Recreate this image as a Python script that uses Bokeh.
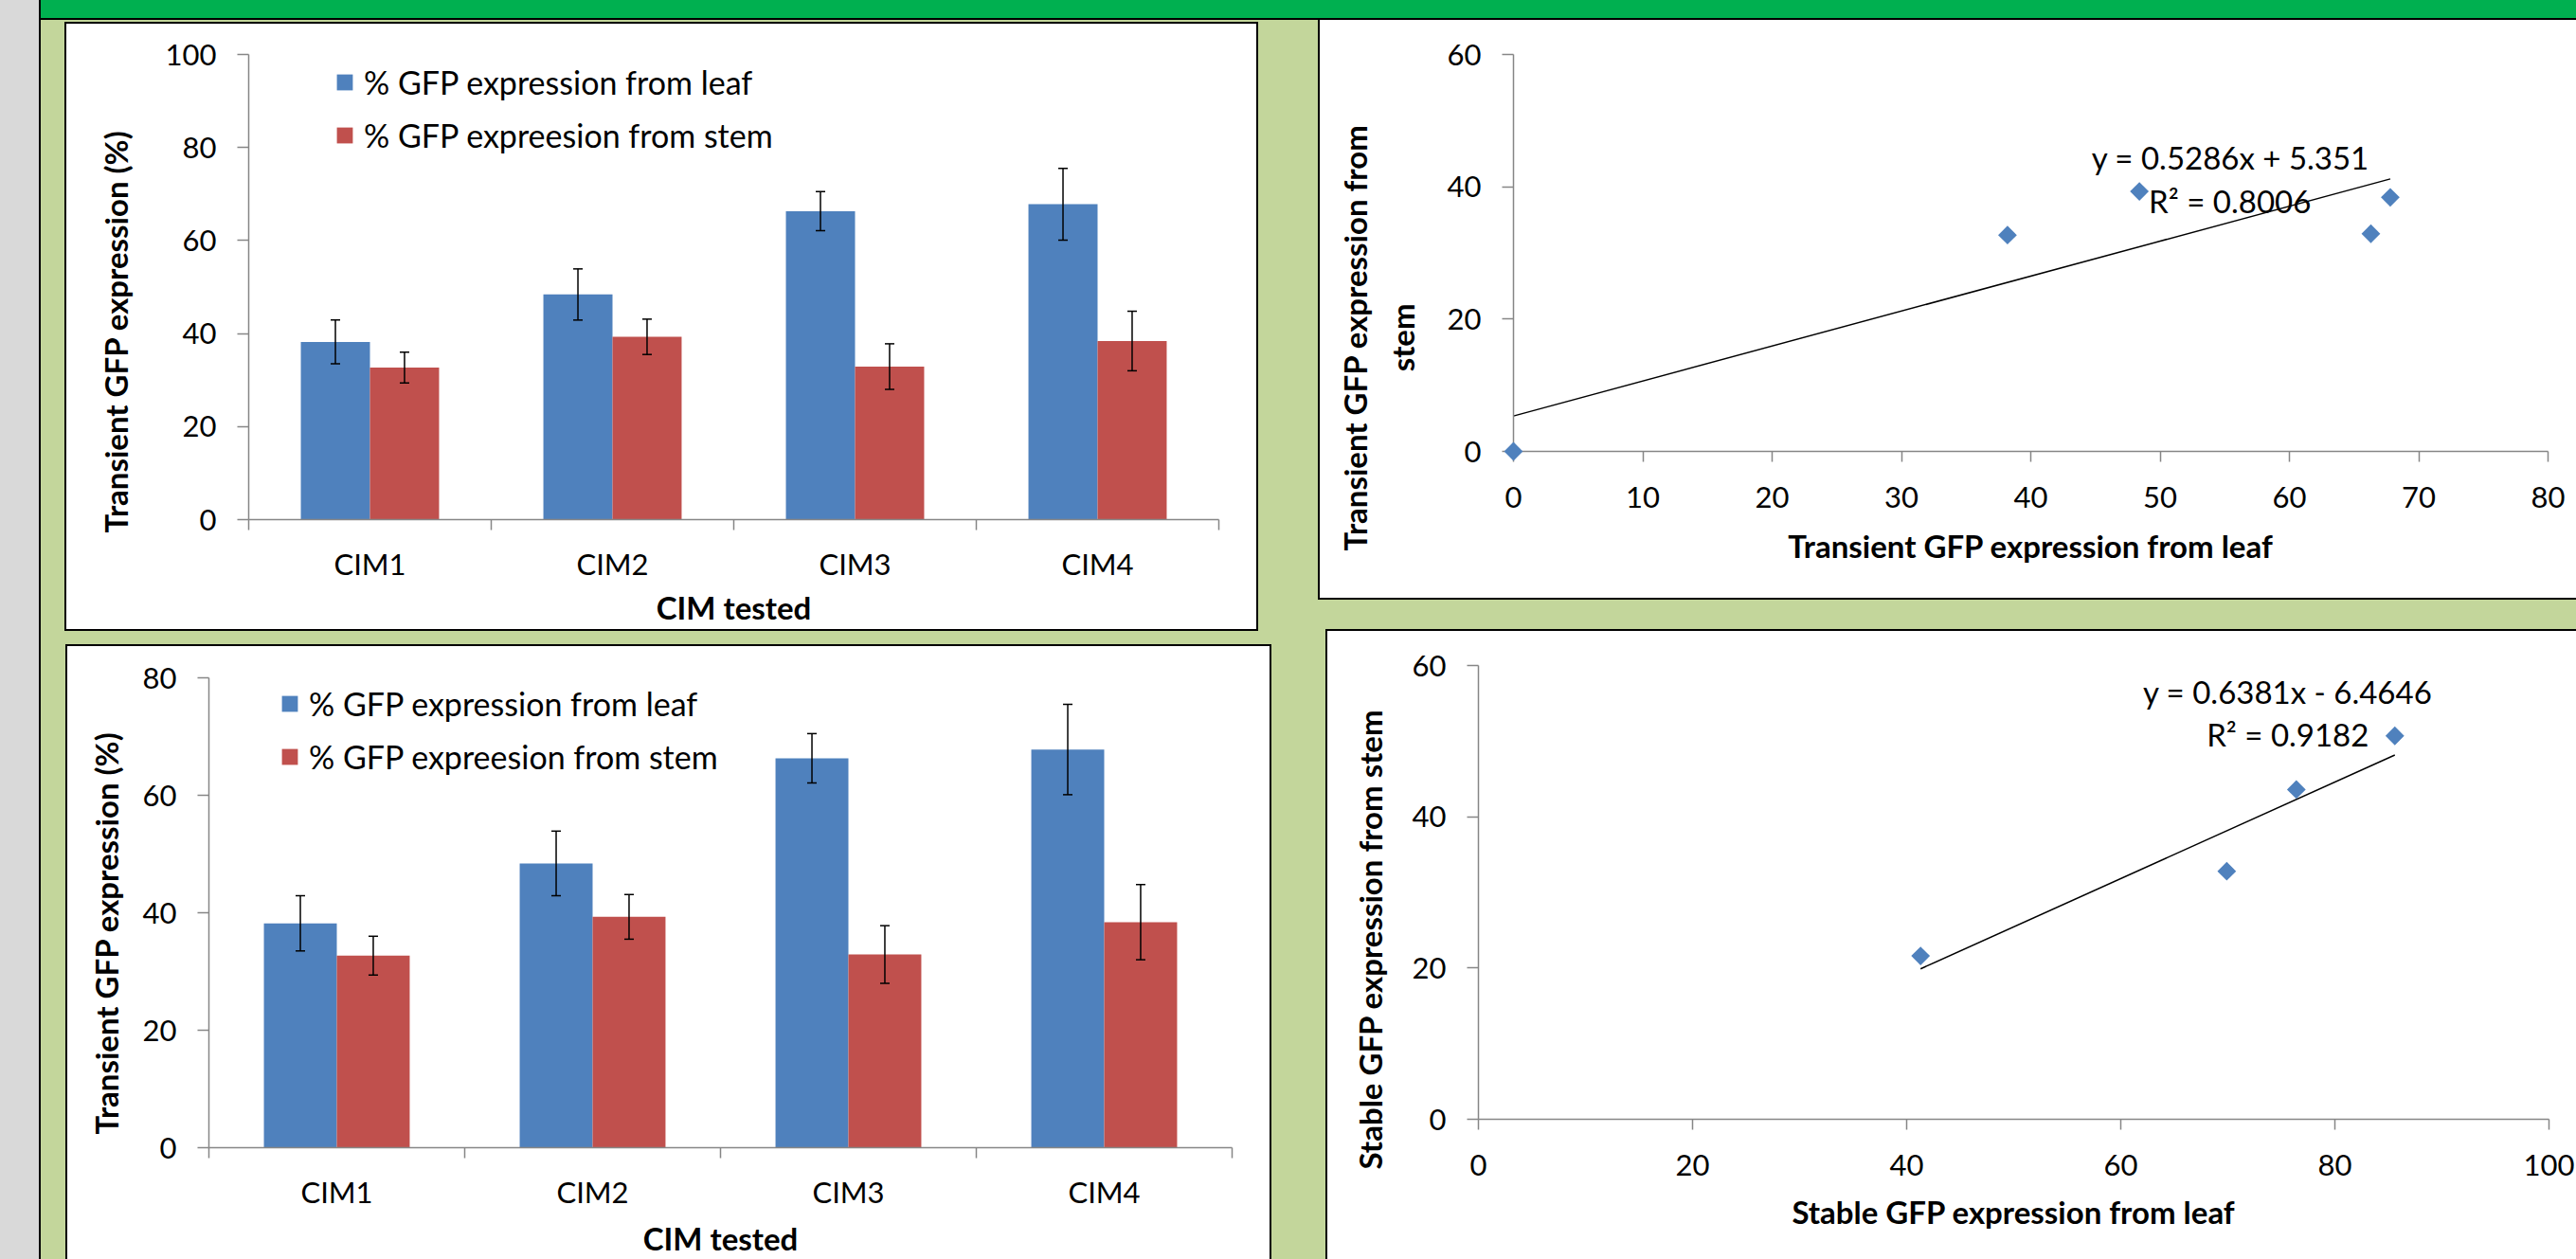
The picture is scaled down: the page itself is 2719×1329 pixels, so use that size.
import math
from bokeh.plotting import figure
from bokeh.models import (Range1d, FixedTicker, Label, Legend, LegendItem, Whisker,
                          TeeHead, ColumnDataSource, Title, LinearAxis)
from bokeh.embed import file_html
from bokeh.resources import INLINE

# ---------------- data ----------------
categories = ["CIM1", "CIM2", "CIM3", "CIM4"]
leaf_pct = [38.2, 48.4, 66.3, 67.8]
leaf_err = [4.7, 5.5, 4.2, 7.7]
stem_pct = [32.7, 39.3, 32.9, 38.4]
stem_err = [3.3, 3.8, 4.9, 6.4]
series_names = ["% GFP expression from leaf", "% GFP expreesion from stem"]

transient_leaf = [0, 38.2, 48.4, 66.3, 67.8]
transient_stem = [0, 32.7, 39.3, 32.9, 38.4]
transient_fit = (0.5286, 5.351)
transient_r2 = 0.8006

stable_leaf = [41.3, 69.9, 76.4, 85.6]
stable_stem = [21.6, 32.8, 43.6, 50.7]
stable_fit = (0.6381, -6.4646)
stable_r2 = 0.9182

# ---------------- style ----------------
BLUE = "#4f81bd"
RED = "#c0504d"
AXIS = "#868686"
LIGHT_GREEN = "#c3d69b"
HEADER_GREEN = "#00b050"
GREY = "#d9d9d9"
FONT = "Lato"
TICK_SIZE = "31px"
TEXT_SIZE = "33px"
LEGEND_SIZE = "34px"
TITLE_SIZE = "33px"
BAR_W = 0.285


def base_fig(W, H, left, right, top, bottom, xr, yr):
    p = figure(width=W, height=H, x_range=xr, y_range=yr,
               output_backend="svg", toolbar_location=None,
               min_border_left=left, min_border_right=right,
               min_border_top=top, min_border_bottom=bottom,
               background_fill_color="white", border_fill_color="white",
               outline_line_color=None)
    p.xgrid.visible = False
    p.ygrid.visible = False
    for ax in (p.xaxis[0], p.yaxis[0]):
        ax.axis_line_color = AXIS
        ax.axis_line_width = 1.5
        ax.major_tick_line_color = AXIS
        ax.major_tick_line_width = 1.5
        ax.major_tick_in = 0
        ax.minor_tick_line_color = None
        ax.major_label_text_font = FONT
        ax.major_label_text_font_size = TICK_SIZE
        ax.major_label_text_color = "black"
        ax.axis_label_text_font = FONT
        ax.axis_label_text_font_size = TITLE_SIZE
        ax.axis_label_text_font_style = "bold"
        ax.axis_label_text_color = "black"
    p.yaxis[0].major_tick_out = 12
    p.yaxis[0].major_label_standoff = 22
    return p


def y_title(p, text, offset, standoff):
    p.add_layout(Title(text=text, align="left", offset=offset,
                       vertical_align="middle", standoff=standoff,
                       text_font=FONT, text_font_style="bold",
                       text_font_size=TITLE_SIZE, text_color="black"), "left")


def bar_chart(W, H, left, right, top, bottom, ymax, ytitle, yt_offset, yt_standoff,
              xtitle, xt_standoff, legend_xy):
    n = len(categories)
    p = base_fig(W, H, left, right, top, bottom, Range1d(0, n), Range1d(0, ymax))
    centers = [i + 0.5 for i in range(n)]
    renderers = []
    for vals, errs, color, shift in ((leaf_pct, leaf_err, BLUE, -BAR_W / 2),
                                     (stem_pct, stem_err, RED, BAR_W / 2)):
        src = ColumnDataSource(dict(
            x=[c + shift for c in centers], top=vals,
            up=[v + e for v, e in zip(vals, errs)],
            lo=[v - e for v, e in zip(vals, errs)]))
        r = p.vbar(x="x", top="top", width=BAR_W, source=src,
                   fill_color=color, line_color=None)
        renderers.append(r)
        w = Whisker(source=src, base="x", upper="up", lower="lo",
                    line_color="black", line_width=1.5,
                    upper_head=TeeHead(size=10, line_color="black", line_width=1.5),
                    lower_head=TeeHead(size=10, line_color="black", line_width=1.5))
        w.level = "overlay"
        p.add_layout(w)
    xa = p.xaxis[0]
    xa.ticker = FixedTicker(ticks=centers, minor_ticks=list(range(n + 1)))
    xa.major_label_overrides = {c: cat for c, cat in zip(centers, categories)}
    xa.major_tick_out = 0
    xa.major_tick_line_color = None
    xa.minor_tick_line_color = AXIS
    xa.minor_tick_line_width = 1.5
    xa.minor_tick_out = 11
    xa.minor_tick_in = 0
    xa.major_label_standoff = 16
    xa.axis_label = xtitle
    xa.axis_label_standoff = xt_standoff
    ya = p.yaxis[0]
    ya.ticker = FixedTicker(ticks=list(range(0, ymax + 1, 20)))
    legend = Legend(items=[LegendItem(label=series_names[0], renderers=[renderers[0]]),
                           LegendItem(label=series_names[1], renderers=[renderers[1]])],
                    location=legend_xy, orientation="vertical",
                    glyph_width=21, glyph_height=21, label_height=21,
                    label_standoff=10, spacing=15, padding=0, margin=0,
                    border_line_color=None, background_fill_alpha=0,
                    label_text_font=FONT, label_text_font_size=LEGEND_SIZE,
                    label_text_color="black")
    p.add_layout(legend)
    y_title(p, ytitle, yt_offset, yt_standoff)
    return p


def scatter_chart(W, H, left, right, top, bottom, xs, ys, fit, r2, xmax, xstep,
                  ytitles, xtitle, xt_standoff, eq_xy, second_line=None):
    p = base_fig(W, H, left, right, top, bottom, Range1d(0, xmax), Range1d(0, 60))
    p.xaxis[0].ticker = FixedTicker(ticks=list(range(0, xmax + 1, xstep)))
    p.xaxis[0].major_tick_out = 11
    p.xaxis[0].major_label_standoff = 26
    p.xaxis[0].axis_label = xtitle
    p.xaxis[0].axis_label_standoff = xt_standoff
    p.yaxis[0].ticker = FixedTicker(ticks=list(range(0, 61, 20)))
    if second_line is not None:
        # second line of the wrapped y title, placed as a rotated label beside the axis
        text, at, standoff = second_line
        p.add_layout(LinearAxis(ticker=FixedTicker(ticks=[at]),
                                major_label_overrides={at: text},
                                major_label_orientation="vertical",
                                axis_line_color=None, major_tick_line_color=None,
                                minor_tick_line_color=None,
                                major_tick_out=0, major_tick_in=0,
                                major_label_standoff=standoff,
                                major_label_text_font=FONT,
                                major_label_text_font_style="bold",
                                major_label_text_font_size=TITLE_SIZE,
                                major_label_text_color="black"), "left")
    m, b = fit
    x_fit = [min(xs), max(xs)]
    p.line(x=x_fit, y=[m * x + b for x in x_fit], line_color="black", line_width=1.5)
    pts = p.scatter(x=xs, y=ys, marker="square", angle=math.pi / 4, size=14,
                    fill_color=BLUE, line_color=None)
    pts.level = "overlay"
    sign = "+" if b >= 0 else "-"
    eq = f"y = {m}x {sign} {abs(b)}"
    for text, (ex, ey) in zip((eq, f"R\u00b2 = {r2}"), eq_xy):
        p.add_layout(Label(x=ex, y=ey, text=text, text_align="center",
                           text_baseline="middle", text_font=FONT,
                           text_font_size=TEXT_SIZE, text_color="black"))
    for text, off, so in ytitles:
        y_title(p, text, off, so)
    return p


p1 = bar_chart(1256, 639, 192, 40, 32, 116, 100, "Transient GFP expression (%)",
               -14, 58, "CIM tested", 4, (91, 385))
p2 = scatter_chart(1326, 610, 204, 30, 36, 155, transient_leaf, transient_stem,
                   transient_fit, transient_r2, 80, 10,
                   [("Transient GFP expression from", -105, 14)],
                   "Transient GFP expression from leaf", 17,
                   [(55.45, 44.5), (55.4, 37.9)], second_line=("stem", 17.2, 24))
p3 = bar_chart(1269, 647, 149, 40, 33, 110, 80, "Transient GFP expression (%)",
               14, 30, "CIM tested", 7, (75, 392))
p4 = scatter_chart(1318, 663, 159, 29, 36, 148, stable_leaf, stable_stem,
                   stable_fit, stable_r2, 100, 20,
                   [("Stable GFP expression from stem", -53, 42)],
                   "Stable GFP expression from leaf", 15,
                   [(75.6, 56.5), (75.6, 50.9)])

# page decoration and panel frames (pixel positions of the poster layout)
def box(left, top, w, h, css, inner=""):
    return (f'<div style="position:absolute;left:{left}px;top:{top}px;width:{w}px;'
            f'height:{h}px;{css}">{inner}</div>\n')

B = "2px solid #000"
parts = [
    box(0, 0, 41, 1329, f"background:{GREY}"),
    box(41, 0, 2, 1329, "background:#000"),
    box(43, 0, 2676, 19, f"background:{HEADER_GREEN}"),
    box(43, 19, 2676, 2, "background:#000"),
    box(68, 23, 1256, 639, f"border:{B};background:#fff", "{{ embed(roots[0]) }}"),
    box(1391, 21, 1326, 610, f"border-left:{B};border-bottom:{B};background:#fff",
        "{{ embed(roots[1]) }}"),
    box(69, 680, 1269, 647, f"border-left:{B};border-top:{B};border-right:{B};background:#fff",
        "{{ embed(roots[2]) }}"),
    box(1399, 664, 1318, 663, f"border-left:{B};border-top:{B};background:#fff",
        "{{ embed(roots[3]) }}"),
]

TEMPLATE = (
    "{% block postamble %}<style>html, body { margin:0; padding:0; overflow:hidden; "
    f"background:{LIGHT_GREEN}; }}</style>{{% endblock %}}\n"
    "{% block contents %}\n"
    f'<div style="position:relative;width:2719px;height:1329px;overflow:hidden;background:{LIGHT_GREEN}">\n'
    + "".join(parts) +
    "</div>\n{% endblock %}\n"
)

open("out.html", "w").write(file_html([p1, p2, p3, p4], INLINE, template=TEMPLATE))
